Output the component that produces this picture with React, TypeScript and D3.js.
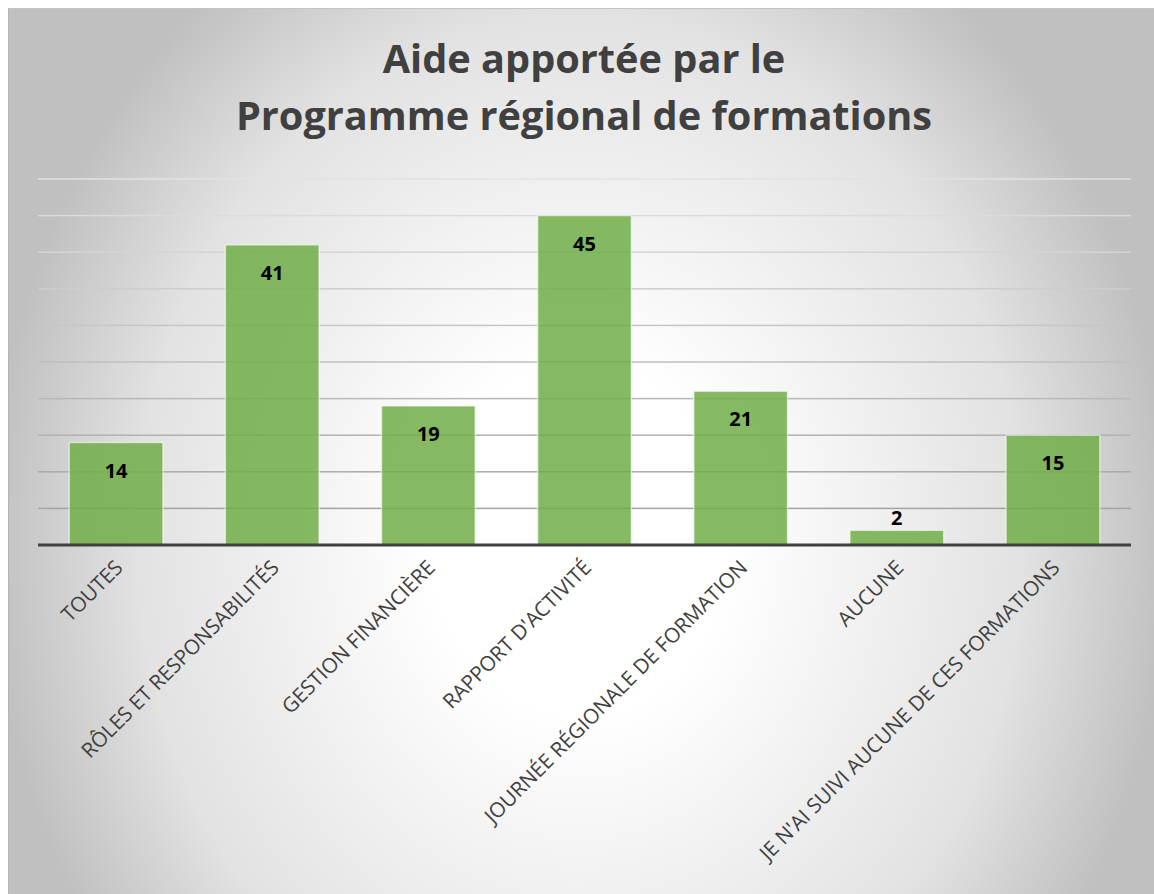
import * as d3 from 'd3';

const categories = [
  'TOUTES',
  'RÔLES ET RESPONSABILITÉS',
  'GESTION FINANCIÈRE',
  "RAPPORT D'ACTIVITÉ",
  'JOURNÉE RÉGIONALE DE FORMATION',
  'AUCUNE',
  "JE N'AI SUIVI AUCUNE DE CES FORMATIONS",
];
const values = [14, 41, 19, 45, 21, 2, 15];
const gridTicks = [0, 5, 10, 15, 20, 25, 30, 35, 40, 45, 50];
const titleLines = ['Aide apportée par le', 'Programme régional de formations'];

export default function App() {
  const width = 1154;
  const height = 894;
  const frame = { x: 8, y: 8, w: 1146, h: 886 };
  const margin = { top: 179, right: 23, bottom: 349, left: 38 };
  const innerWidth = width - margin.left - margin.right;
  const innerHeight = height - margin.top - margin.bottom;

  const xScale = d3
    .scaleBand()
    .domain(categories)
    .range([0, innerWidth])
    .paddingInner(0.4)
    .paddingOuter(0.2);

  const yScale = d3.scaleLinear().domain([0, 50]).range([innerHeight, 0]);

  const font = "'Open Sans', 'DejaVu Sans', sans-serif";

  return (
    <svg
      width={width}
      height={height}
      style={{ position: 'absolute', left: 0, top: 0 }}
    >
      <defs>
        <radialGradient
          id="bg"
          gradientUnits="userSpaceOnUse"
          cx={0}
          cy={0}
          r={1}
          gradientTransform="translate(580,540) scale(590,700)"
        >
          <stop offset="0%" stopColor="#ffffff" />
          <stop offset="25%" stopColor="#ffffff" />
          <stop offset="75%" stopColor="#e2e2e2" />
          <stop offset="100%" stopColor="#c0c0c0" />
        </radialGradient>
        <linearGradient
          id="grid"
          gradientUnits="userSpaceOnUse"
          x1={0}
          x2={0}
          y1={0}
          y2={innerHeight}
        >
          <stop offset="0%" stopColor="#e2e2e2" />
          <stop offset="100%" stopColor="#9c9c9c" />
        </linearGradient>
      </defs>
      <rect x={frame.x} y={frame.y} width={frame.w} height={frame.h} fill="url(#bg)" />
      <line x1={frame.x} x2={width} y1={frame.y + 0.5} y2={frame.y + 0.5} stroke="#c4c4c4" />
      <line x1={frame.x + 0.5} x2={frame.x + 0.5} y1={frame.y} y2={height} stroke="#b4b4b4" />

      <text
        x={584}
        textAnchor="middle"
        fontFamily={font}
        fontWeight="bold"
        fontSize={39.7}
        fill="#404040"
      >
        <tspan x={584} y={73}>{titleLines[0]}</tspan>
        <tspan x={584} y={130}>{titleLines[1]}</tspan>
      </text>

      <g transform={`translate(${margin.left}, ${margin.top})`}>
        {gridTicks.slice(1).map((t) => (
          <rect
            key={t}
            x={0}
            y={yScale(t) - 0.75}
            width={innerWidth}
            height={1.5}
            fill="url(#grid)"
          />
        ))}

        {categories.map((c, i) => (
          <rect
            key={c}
            x={xScale(c)}
            y={yScale(values[i])}
            width={xScale.bandwidth()}
            height={innerHeight - yScale(values[i])}
            fill="#70ad47"
            fillOpacity={0.85}
            stroke="#ffffff"
            strokeOpacity={0.55}
            strokeWidth={1.5}
          />
        ))}

        <line
          x1={0}
          x2={innerWidth}
          y1={innerHeight}
          y2={innerHeight}
          stroke="#404040"
          strokeWidth={3}
        />

        {categories.map((c, i) => {
          const barH = innerHeight - yScale(values[i]);
          const y = barH > 40 ? yScale(values[i]) + 35 : yScale(values[i]) - 5;
          return (
            <text
              key={c}
              x={xScale(c) + xScale.bandwidth() / 2}
              y={y}
              textAnchor="middle"
              fontFamily={font}
              fontWeight="bold"
              fontSize={20}
              fill="#000000"
            >
              {values[i]}
            </text>
          );
        })}

        {categories.map((c) => {
          const cx = xScale(c) + xScale.bandwidth() / 2 + 8;
          const cy = innerHeight + 24;
          return (
            <text
              key={c}
              transform={`translate(${cx}, ${cy}) rotate(-45)`}
              textAnchor="end"
              fontFamily={font}
              fontSize={20.6}
              fill="#404040"
            >
              {c}
            </text>
          );
        })}
      </g>
    </svg>
  );
}
